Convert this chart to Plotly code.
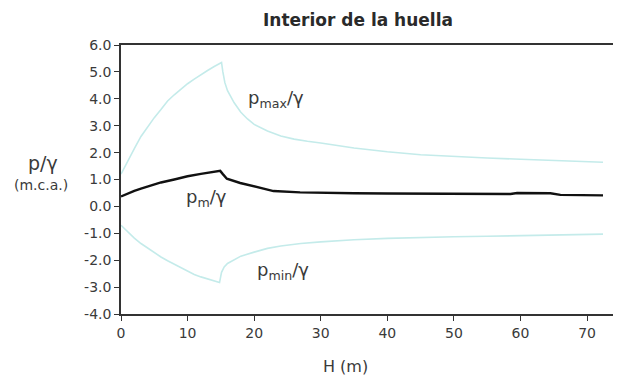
import plotly.graph_objects as go

# ---- data ----
h_max = [0, 1, 2, 3, 4, 5, 6, 7, 8, 9, 10, 11, 12, 13, 14, 15.1, 15.3, 15.6, 16, 17, 18, 19, 20, 22, 24, 26, 28, 30, 35, 40, 45, 50, 55, 60, 65, 72.4]
p_max = [1.2, 1.7, 2.15, 2.6, 2.95, 3.3, 3.6, 3.92, 4.15, 4.37, 4.56, 4.73, 4.9, 5.05, 5.2, 5.35, 5.0, 4.6, 4.3, 3.85, 3.5, 3.25, 3.05, 2.8, 2.62, 2.5, 2.42, 2.36, 2.17, 2.03, 1.92, 1.85, 1.8, 1.75, 1.7, 1.64]

h_min = [0, 1, 2, 3, 4, 5, 6, 7, 8, 9, 10, 11, 12, 13, 14, 14.8, 15.1, 15.5, 16, 17, 18, 20, 22, 24, 27, 30, 35, 40, 45, 50, 55, 60, 65, 72.4]
p_min = [-0.7, -0.95, -1.18, -1.38, -1.55, -1.72, -1.88, -2.02, -2.15, -2.3, -2.42, -2.53, -2.62, -2.7, -2.78, -2.83, -2.45, -2.25, -2.12, -1.97, -1.85, -1.7, -1.56, -1.47, -1.38, -1.32, -1.24, -1.19, -1.15, -1.13, -1.11, -1.08, -1.05, -1.03]

h_m = [0, 1, 2, 3, 4, 5, 6, 8, 10, 12, 14, 14.9, 15.3, 15.9, 17.9, 20.9, 22.9, 26.9, 30, 35, 40, 45, 50, 55, 58.5, 59.5, 62, 64.5, 66, 68, 72.4]
p_m = [0.37, 0.48, 0.58, 0.66, 0.74, 0.82, 0.89, 1.0, 1.12, 1.21, 1.29, 1.32, 1.2, 1.03, 0.87, 0.68, 0.57, 0.52, 0.5, 0.49, 0.48, 0.48, 0.47, 0.47, 0.46, 0.5, 0.5, 0.49, 0.43, 0.42, 0.41]

x_ticks = [0, 10, 20, 30, 40, 50, 60, 70]
y_ticks = [6, 5, 4, 3, 2, 1, 0, -1, -2, -3, -4]
y_ticktext = ["6.0", "5.0", "4.0", "3.0", "2.0", "1.0", "0.0", "-1.0", "-2.0", "-3.0", "-4.0"]

title = "Interior de la huella"
x_title = "H (m)"
y_title = "p/γ"
y_unit = "(m.c.a.)"

FONT = "DejaVu Sans"
AX = "#333333"
TXT = "#3a3a3a"
CYAN = "#c4ebea"

# the page body adds an 8px margin, so the figure is placed at (8, 8)
OFF = 8
W, H = 621 - OFF, 378 - OFF
L, T = 121 - OFF, 45 - OFF
R = W - (617 - OFF)
B = H - (314 - OFF)

fig = go.Figure()
fig.add_trace(go.Scatter(x=h_max, y=p_max, mode="lines", line=dict(color=CYAN, width=1.6), hoverinfo="skip"))
fig.add_trace(go.Scatter(x=h_min, y=p_min, mode="lines", line=dict(color=CYAN, width=1.6), hoverinfo="skip"))
fig.add_trace(go.Scatter(x=h_m, y=p_m, mode="lines", line=dict(color="#111111", width=2.4), hoverinfo="skip"))

fig.update_layout(
    width=W, height=H,
    margin=dict(l=L, r=R, t=T, b=B),
    paper_bgcolor="white", plot_bgcolor="white",
    showlegend=False,
    font=dict(family=FONT, color=TXT, size=14),
    xaxis=dict(range=[0, 74.5], tickvals=x_ticks, ticks="outside", ticklen=5, tickwidth=1.2,
               tickcolor=AX, showline=True, linecolor=AX, linewidth=1.5, mirror=True,
               showgrid=False, zeroline=False, tickfont=dict(size=14, family=FONT, color=TXT)),
    yaxis=dict(range=[-4, 6], tickvals=y_ticks, ticktext=y_ticktext, ticks="outside", ticklen=5,
               tickwidth=1.2, tickcolor=AX, showline=True, linecolor=AX, linewidth=1.5,
               showgrid=False, zeroline=False, tickfont=dict(size=14, family=FONT, color=TXT)),
)

def px(xp):
    return (xp - OFF - L) / (W - L - R)

def py(yp):
    return (H - B - (yp - OFF)) / (H - T - B)

def note(text, x, y, size, ref="paper", color=TXT):
    return dict(text=text, x=x, y=y, xref=ref, yref=ref if ref == "paper" else "y",
                xanchor="center", yanchor="middle", showarrow=False,
                font=dict(size=size, color=color, family=FONT))

ann = [
    note("<b>" + title + "</b>", px(358), py(20), 17, color="#2a2a2a"),
    note(x_title, px(345), py(366), 16),
    note(y_title, px(43), py(163), 19),
    note(y_unit, px(41), py(185), 14),
    note("p<sub>max</sub>/γ", 23.3, 4.0, 18, ref="x"),
    note("p<sub>m</sub>/γ", 12.9, 0.3, 18, ref="x"),
    note("p<sub>min</sub>/γ", 24.4, -2.4, 18, ref="x"),
]
fig.update_layout(annotations=ann)

fig.write_html("out.html")
